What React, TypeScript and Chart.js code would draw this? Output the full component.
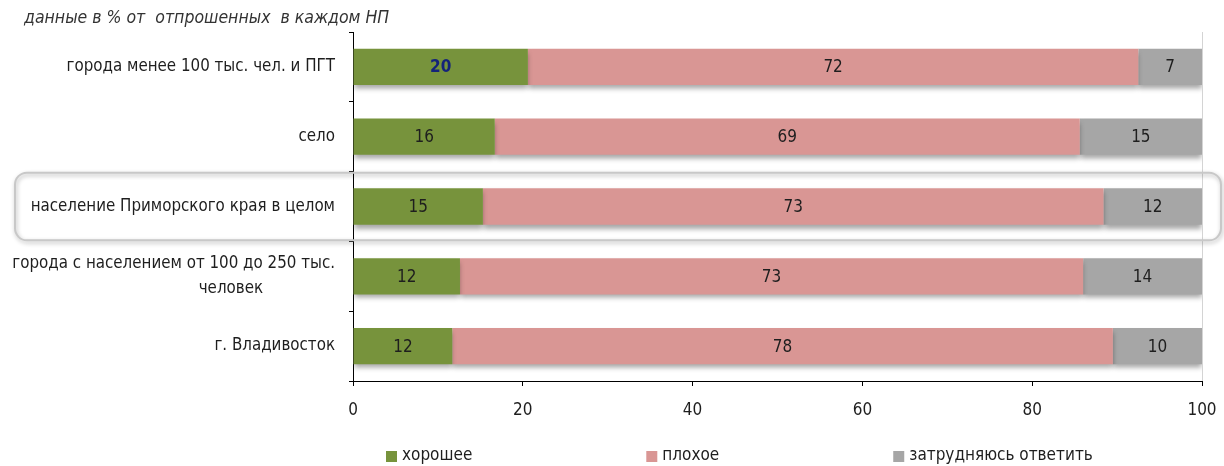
import React, { useEffect, useRef } from 'react';
import { Chart, registerables } from 'chart.js';

Chart.register(...registerables);

const titleText = 'данные в % от  отпрошенных  в каждом НП';
const categories: (string | string[])[] = [
  'города менее 100 тыс. чел. и ПГТ',
  'село',
  'население Приморского края в целом',
  ['города с населением от 100 до 250 тыс.', 'человек               '],
  'г. Владивосток',
];
const seriesNames = ['хорошее', 'плохое', 'затрудняюсь ответить'];
const goodValues = [20.6, 16.7, 15.3, 12.6, 11.7];
const badValues = [71.9, 68.9, 73.1, 73.4, 77.8];
const unsureValues = [7.5, 14.4, 11.6, 14.0, 10.5];
const goodLabels = ['20', '16', '15', '12', '12'];
const badLabels = ['72', '69', '73', '73', '78'];
const unsureLabels = ['7', '15', '12', '14', '10'];
const highlightIndex = 2;

const FONT = '"DejaVu Sans Condensed", "DejaVu Sans", sans-serif';
const COLORS = ['#77933C', '#D99694', '#A6A6A6'];

export default function App() {
  const ref = useRef<HTMLCanvasElement>(null);

  useEffect(() => {
    if (!ref.current) return;
    const labelSets = [goodLabels, badLabels, unsureLabels];

    const highlightPlugin = {
      id: 'highlight',
      beforeDatasetsDraw(chart: any) {
        const ctx = chart.ctx;
        const y = chart.scales.y;
        const c = y.getPixelForValue(highlightIndex);
        const half = (y.getPixelForValue(1) - y.getPixelForValue(0)) * 0.485;
        const x0 = 15;
        const x1 = chart.width - 3;
        ctx.save();
        ctx.shadowColor = 'rgba(0,0,0,0.3)';
        ctx.shadowBlur = 4;
        ctx.shadowOffsetX = 1;
        ctx.shadowOffsetY = 2;
        ctx.strokeStyle = '#c8c8c8';
        ctx.lineWidth = 2;
        ctx.beginPath();
        ctx.roundRect(x0, c - half, x1 - x0, half * 2, 12);
        ctx.stroke();
        ctx.restore();
        // bar shadows
        ctx.save();
        ctx.shadowColor = 'rgba(0,0,0,0.35)';
        ctx.shadowBlur = 5;
        ctx.shadowOffsetX = 0;
        ctx.shadowOffsetY = 4;
      },
      afterDatasetsDraw(chart: any) {
        const ctx = chart.ctx;
        ctx.restore();
        ctx.save();
        ctx.textAlign = 'center';
        ctx.textBaseline = 'middle';
        chart.data.datasets.forEach((ds: any, i: number) => {
          const meta = chart.getDatasetMeta(i);
          meta.data.forEach((bar: any, j: number) => {
            const first = i === 0 && j === 0;
            ctx.font = (first ? 'bold ' : '') + '17px ' + FONT;
            ctx.fillStyle = first ? '#14237a' : '#1e1e1e';
            ctx.fillText(labelSets[i][j], (bar.x + bar.base) / 2, bar.y + 1);
          });
        });
        ctx.restore();
      },
      afterDraw(chart: any) {
        const ctx = chart.ctx;
        ctx.save();
        // title
        ctx.font = 'italic 17.5px ' + FONT;
        ctx.fillStyle = '#333';
        ctx.textBaseline = 'middle';
        ctx.textAlign = 'left';
        ctx.fillText(titleText, 24, 18);
        // legend
        ctx.font = '17px ' + FONT;
        let x = chart.chartArea.left + 33;
        const y = 456;
        chart.data.datasets.forEach((ds: any) => {
          ctx.fillStyle = ds.backgroundColor;
          ctx.fillRect(x, y - 5, 11, 11);
          ctx.fillStyle = '#1e1e1e';
          ctx.fillText(ds.label, x + 16, y);
          x += 16 + ctx.measureText(ds.label).width + 174;
        });
        ctx.restore();
      },
    };

    const chart = new Chart(ref.current, {
      type: 'bar',
      data: {
        labels: categories as any,
        datasets: [
          { label: seriesNames[0], data: goodValues, backgroundColor: COLORS[0] },
          { label: seriesNames[1], data: badValues, backgroundColor: COLORS[1] },
          { label: seriesNames[2], data: unsureValues, backgroundColor: COLORS[2] },
        ],
      },
      options: {
        indexAxis: 'y',
        animation: false,
        responsive: true,
        maintainAspectRatio: false,
        datasets: { bar: { barPercentage: 0.52, categoryPercentage: 1 } } as any,
        layout: { padding: { left: 0, right: 22, top: 32, bottom: 49 } },
        plugins: {
          legend: { display: false },
          tooltip: { enabled: false },
          title: { display: false },
        },
        scales: {
          x: {
            stacked: true,
            min: 0,
            max: 100,
            ticks: { stepSize: 20, color: '#1e1e1e', font: { family: FONT, size: 17 }, padding: 14 },
            grid: {
              drawOnChartArea: true,
              color: (c: any) => (c.tick && c.tick.value === 100 ? '#d4d4d4' : 'rgba(0,0,0,0)'),
              tickColor: '#000',
              tickLength: 5,
            },
            border: { color: '#000', width: 1 },
            afterFit: (s: any) => {
              s.height = 36;
              s.paddingLeft = 0;
              s.paddingRight = 0;
            },
          },
          y: {
            stacked: true,
            ticks: { color: '#1e1e1e', font: { family: FONT, size: 16.8, lineHeight: 1.5 }, padding: 14 },
            grid: { drawOnChartArea: false, offset: true, color: '#000', tickLength: 4 },
            border: { color: '#000', width: 1 },
            afterFit: (s: any) => {
              s.width = 353;
              s.paddingTop = 0;
              s.paddingBottom = 0;
            },
          },
        },
      },
      plugins: [highlightPlugin],
    });
    return () => chart.destroy();
  }, []);

  return (
    <div style={{ position: 'fixed', left: 0, top: 0, width: 1224, height: 466, background: '#fff' }}>
      <canvas ref={ref} />
    </div>
  );
}
